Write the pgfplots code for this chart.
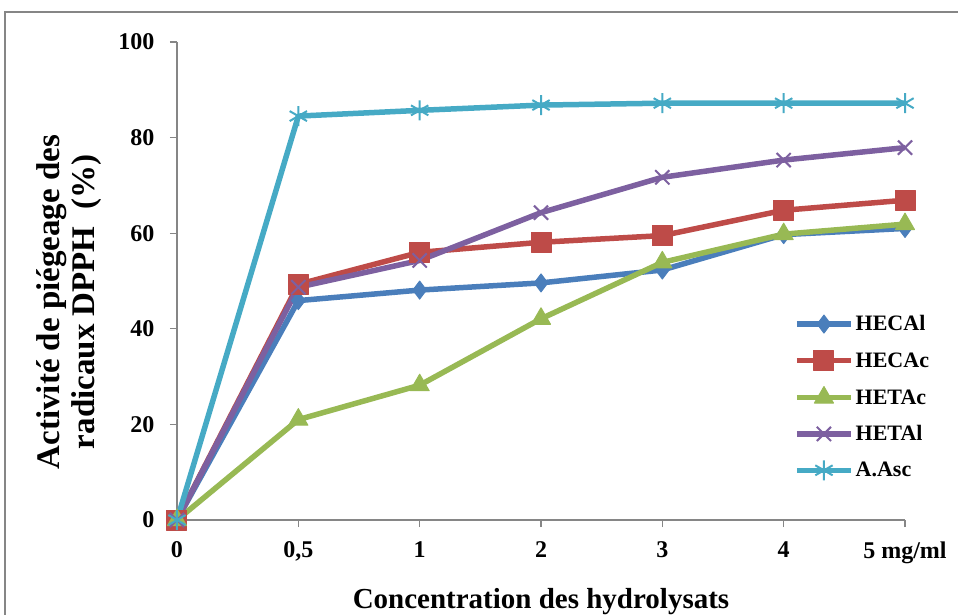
\documentclass[border=0pt]{standalone}
\usepackage{pgfplots}
\pgfplotsset{compat=1.18}
\usepackage{fontspec}
\setmainfont{Liberation Serif}
\definecolor{cHECAl}{HTML}{4A7EBB}
\definecolor{cHECAc}{HTML}{BE4B48}
\definecolor{cHETAc}{HTML}{98B954}
\definecolor{cHETAl}{HTML}{7D60A0}
\definecolor{cAAsc}{HTML}{46AAC5}
\definecolor{axgray}{HTML}{868686}
\begin{document}
\begin{tikzpicture}
\path[use as bounding box, clip] (-177pt,-94pt) rectangle (781pt,520pt);
\draw[axgray, line width=1.5pt] (-172pt,-200pt) rectangle (900pt,508pt);
\begin{axis}[
  at={(0pt,0pt)}, anchor=south west,
  scale only axis, width=728pt, height=478pt,
  xmin=0, xmax=6, ymin=0, ymax=100,
  axis x line*=bottom, axis y line*=left,
  axis line style={axgray, line width=1.2pt},
  every tick/.style={axgray, line width=1.2pt},
  tick align=outside, major tick length=7pt,
  xtick={0,1,2,3,4,5,6},
  xticklabels={0,{0,5},1,2,3,4,5 mg/ml},
  ytick={0,20,40,60,80,100},
  /pgf/number format/assume math mode=true,
  ticklabel style={font=\fontsize{24}{28}\selectfont\bfseries},
  yticklabel style={xshift=-12pt},
  xticklabel style={yshift=-11pt},
  xlabel={Concentration des hydrolysats},
  ylabel={Activité de piégeage des\\radicaux DPPH~~(\%)},
  every axis x label/.style={at={(axis description cs:0.5,-0.186)}, anchor=base, font=\fontsize{29}{32}\selectfont\bfseries},
  every axis y label/.style={at={(axis description cs:-0.148,0.456)}, anchor=center, rotate=90, align=center, font=\fontsize{33}{34.5}\selectfont\bfseries},
  legend style={draw=none, fill=none, at={(617pt,206.5pt)}, anchor=north west,
    font=\fontsize{22}{25}\selectfont\bfseries, row sep=16pt, inner sep=0pt,
    cells={anchor=west}},
  legend image code/.code={\draw[mark repeat=2,mark phase=2,#1] plot coordinates {(0pt,0pt) (27pt,0pt) (54pt,0pt)};},
  every axis plot/.append style={line width=5.5pt, line join=round},
  clip=false,
]
\addplot[cHECAl, mark=diamond*, mark size=9pt, mark options={line width=1pt}] coordinates {(0,0) (1,45.9) (2,48.1) (3,49.6) (4,52.3) (5,59.7) (6,61.0)};
\addlegendentry{HECAl}
\addplot[cHECAc, mark=square*, mark size=10pt, mark options={line width=1pt}] coordinates {(0,0) (1,49.3) (2,56.0) (3,58.1) (4,59.5) (5,64.8) (6,66.9)};
\addlegendentry{HECAc}
\addplot[cHETAc, mark=triangle*, mark size=11pt, mark options={line width=1pt}] coordinates {(0,0) (1,21.0) (2,28.2) (3,42.1) (4,53.9) (5,59.8) (6,61.9)};
\addlegendentry{HETAc}
\addplot[cHETAl, mark=x, mark size=10pt, mark options={line width=2pt}] coordinates {(0,0) (1,48.7) (2,54.3) (3,64.3) (4,71.7) (5,75.3) (6,77.9)};
\addlegendentry{HETAl}
\addplot[cAAsc, mark=asterisk, mark size=10pt, mark options={line width=2pt}] coordinates {(0,0) (1,84.5) (2,85.7) (3,86.8) (4,87.2) (5,87.2) (6,87.2)};
\addlegendentry{A.Asc}
\end{axis}
\end{tikzpicture}
\end{document}
